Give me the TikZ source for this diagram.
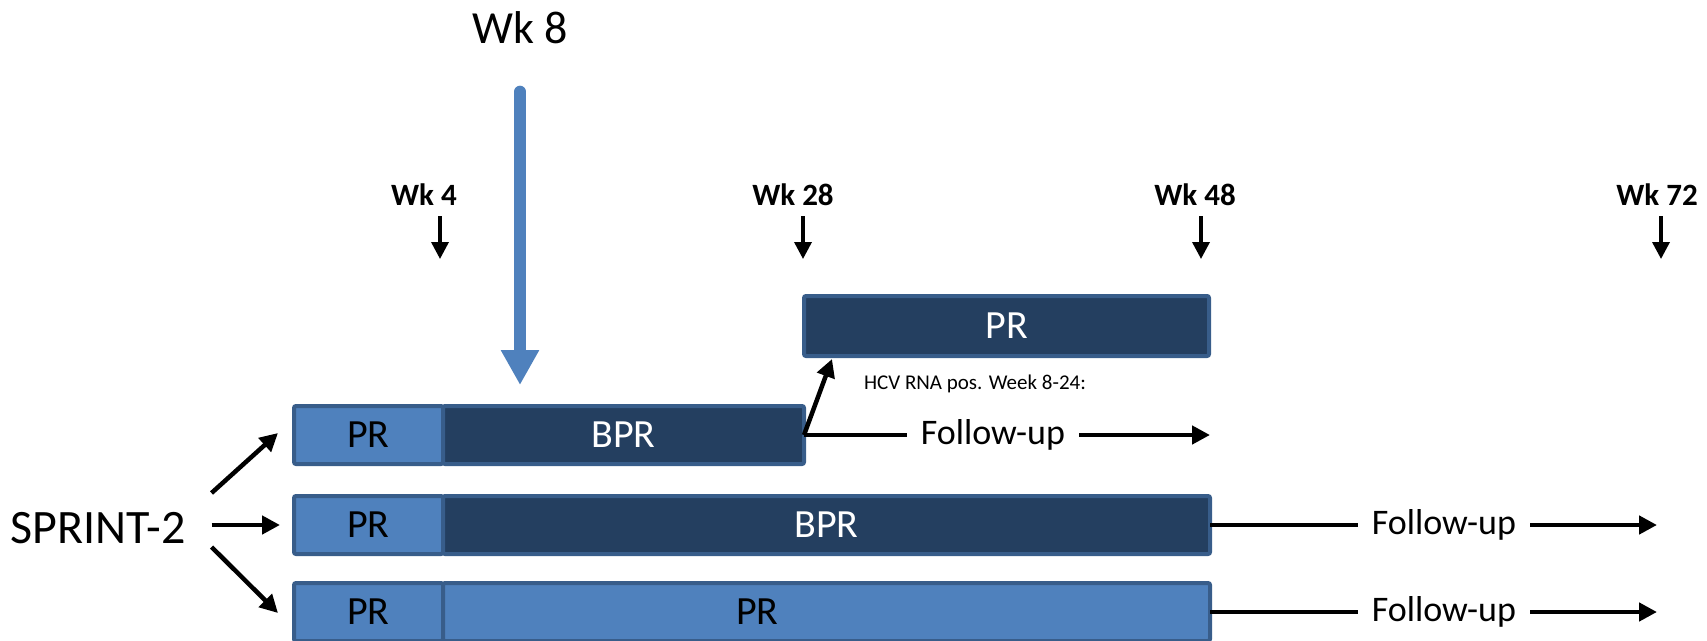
\documentclass[tikz,border=0pt]{standalone}
\usepackage{fontspec}
\setmainfont{Carlito}
\usetikzlibrary{arrows.meta,positioning}
\definecolor{lightbar}{HTML}{4F81BD}
\definecolor{darkbar}{HTML}{243F60}
\definecolor{barline}{HTML}{385D8A}

\begin{document}
\begin{tikzpicture}[x=1pt, y=-1pt,
	bar/.style={draw=barline, line width=4pt, rounded corners=2pt, minimum height=58pt, inner sep=0pt, outer sep=0pt, font=\fontsize{40}{40}\selectfont},
	pr/.style={bar, fill=lightbar, text=black},
	bpr/.style={bar, fill=darkbar, text=white},
	line/.style={line width=4.5pt},
	arr/.style={line, -{Triangle[length=18pt, width=18pt]}},
	tick/.style={line width=3.5pt, -{Triangle[length=17pt, width=17pt]}},
	fu/.style={font=\fontsize{36}{36}\selectfont, inner xsep=14pt, inner ysep=0pt},
	wk/.style={font=\fontsize{31}{31}\selectfont\bfseries, inner sep=0pt}]
	\useasboundingbox (0,0) rectangle (1707,640);

	% bars
	\node[pr, minimum width=149pt, anchor=west] (pr1) at (294,435) {PR};
	\node[bpr, minimum width=361pt, right=0pt of pr1] (bpr1) {BPR};
	\node[pr, minimum width=149pt, anchor=west] (pr2) at (294,525) {PR};
	\node[bpr, minimum width=767pt, right=0pt of pr2] (bpr2) {BPR};
	\node[pr, minimum width=149pt, anchor=west] (pr3) at (294,612) {PR};
	\node[pr, minimum width=767pt, right=0pt of pr3] (prlong) {PR\hspace*{138pt}};
	\node[bpr, minimum width=405pt, minimum height=60pt, anchor=north west] (prtop) at (804,296) {PR};

	% week marks
	\node[font=\fontsize{46}{46}\selectfont] (wk8) at (520,28) {Wk 8};
	\coordinate (wk8end) at (520,385);
	\draw[lightbar, line width=12pt, line cap=round, shorten <=44pt, -{Triangle[length=35pt, width=36pt]}] (wk8) -- (wk8end);
	\foreach \w/\tx/\ax in {4/424/440, 28/793/803, 48/1195/1201, 72/1657/1661} {
		\node[wk] (wk\w) at (\tx,195) {Wk \w};
		\coordinate (wkend\w) at (\ax,259);
		\draw[tick, shorten <=10pt] (wkend\w |- wk\w.south) -- (wkend\w);
	}

	% arms
	\node[font=\fontsize{48}{48}\selectfont, inner sep=0pt] (sprint) at (98,528) {SPRINT-2};
	\draw[arr] ([shift={(26,-35)}]sprint.east) -- ([xshift=-16pt, yshift=2pt]pr1.west);
	\draw[arr] ([shift={(26,-3)}]sprint.east) -- ([xshift=-14pt]pr2.west);
	\draw[arr] ([shift={(26,19)}]sprint.east) -- ([xshift=-16pt, yshift=-1pt]pr3.west);

	% follow-up
	\node[font=\fontsize{21}{21}\selectfont] (hcv) at (975,384) {HCV RNA pos. Week 8-24:};
	\draw[arr] (bpr1.east) -- ([xshift=28pt, yshift=-3pt]prtop.south west);
	\node[fu] (fu1) at (993,435) {Follow-up};
	\coordinate (fuend1) at (1210,435);
	\draw[line] (bpr1.east) -- (fu1.west);
	\draw[arr] (fu1.east) -- (fuend1);
	\node[fu] (fu2) at (1444,525) {Follow-up};
	\coordinate (fuend2) at (1657,525);
	\draw[line] (bpr2.east) -- (fu2.west);
	\draw[arr] (fu2.east) -- (fuend2);
	\node[fu] (fu3) at (1444,612) {Follow-up};
	\coordinate (fuend3) at (1657,612);
	\draw[line] (prlong.east) -- (fu3.west);
	\draw[arr] (fu3.east) -- (fuend3);
\end{tikzpicture}
\end{document}
